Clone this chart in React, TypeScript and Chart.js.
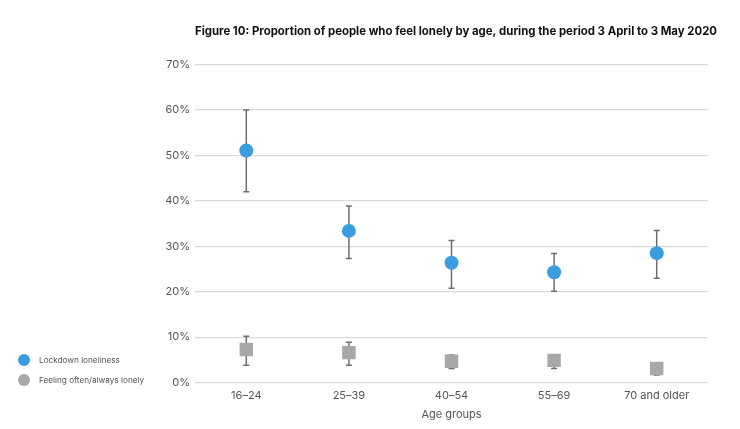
import React, { useEffect, useRef } from "react";
import { Chart, registerables } from "chart.js";

Chart.register(...registerables);

const categories = ["16–24", "25–39", "40–54", "55–69", "70 and older"];
const lockdown = [51.1, 33.4, 26.4, 24.3, 28.5];
const lockdownLow = [42.0, 27.3, 20.8, 20.1, 23.0];
const lockdownHigh = [60.0, 38.9, 31.3, 28.4, 33.5];
const often = [7.3, 6.6, 4.7, 4.9, 3.1];
const oftenLow = [3.8, 3.8, 3.1, 3.1, 1.7];
const oftenHigh = [10.2, 8.9, 6.1, 5.5, 4.0];
const seriesLabels = ["Lockdown loneliness", "Feeling often/always lonely"];
const seriesColors = ["#3a9de0", "#a8a8a8"];
const titleText =
  "Figure 10: Proportion of people who feel lonely by age, during the period 3 April to 3 May 2020";

const errorSets = [
  { low: lockdownLow, high: lockdownHigh },
  { low: oftenLow, high: oftenHigh },
];

const errorBarPlugin = {
  id: "errorBars",
  beforeDatasetsDraw(chart: any) {
    const { ctx, scales } = chart;
    const x = scales.x;
    const y = scales.y;
    ctx.save();
    ctx.strokeStyle = "#6e6e6e";
    ctx.lineWidth = 1.5;
    errorSets.forEach(({ low, high }) => {
      low.forEach((l, i) => {
        const px = x.getPixelForValue(i);
        const yl = y.getPixelForValue(l);
        const yh = y.getPixelForValue(high[i]);
        ctx.beginPath();
        ctx.moveTo(px, yl);
        ctx.lineTo(px, yh);
        ctx.moveTo(px - 3, yl);
        ctx.lineTo(px + 3, yl);
        ctx.moveTo(px - 3, yh);
        ctx.lineTo(px + 3, yh);
        ctx.stroke();
      });
    });
    ctx.restore();
  },
};

export default function App() {
  const ref = useRef<HTMLCanvasElement | null>(null);

  useEffect(() => {
    if (!ref.current) return;
    const chart = new Chart(ref.current, {
      type: "line",
      data: {
        labels: categories,
        datasets: [
          {
            label: seriesLabels[0],
            data: lockdown,
            showLine: false,
            pointStyle: "circle",
            pointRadius: 7,
            pointHoverRadius: 7,
            pointBackgroundColor: seriesColors[0],
            pointBorderWidth: 0,
            borderColor: seriesColors[0],
          },
          {
            label: seriesLabels[1],
            data: often,
            showLine: false,
            pointStyle: "rect",
            pointRadius: 9.5,
            pointHoverRadius: 9.5,
            pointBackgroundColor: seriesColors[1],
            pointBorderWidth: 0,
            borderColor: seriesColors[1],
          },
        ],
      },
      options: {
        animation: false,
        responsive: true,
        maintainAspectRatio: false,
        layout: { padding: { left: 0, right: 15, top: 0, bottom: 0 } },
        plugins: {
          legend: { display: false },
          tooltip: { enabled: false },
          title: {
            display: true,
            text: titleText,
            align: "end",
            color: "#111",
            font: { family: "Inter", size: 11.4, weight: "bold" },
            padding: { top: 17, bottom: 26 },
          },
        },
        scales: {
          x: {
            offset: true,
            grid: { display: false, drawTicks: false },
            border: { display: false },
            ticks: {
              color: "#555",
              font: { family: "Inter", size: 11 },
              padding: 6,
            },
            title: {
              display: true,
              text: "Age groups",
              color: "#555",
              font: { family: "Inter", size: 11 },
              padding: { top: 0, bottom: 0 },
            },
          },
          y: {
            min: 0,
            max: 70,
            ticks: {
              stepSize: 10,
              color: "#555",
              font: { family: "Inter", size: 11 },
              padding: 5,
              callback: (v: any) => v + "%",
            },
            grid: { color: "#dadada", lineWidth: 1.3, drawTicks: false },
            border: { display: false },
            afterFit: (s: any) => {
              s.width = 187;
            },
          },
          yR: {
            position: "right",
            display: true,
            grid: { display: false },
            border: { display: false },
            ticks: { display: false },
            afterFit: (s: any) => {
              s.width = 9;
            },
          },
        },
      },
      plugins: [errorBarPlugin],
    });
    return () => chart.destroy();
  }, []);

  const legendItem = (i: number, top: number) => (
    <div
      key={i}
      style={{
        position: "absolute",
        left: 10,
        top,
        display: "flex",
        alignItems: "center",
        fontFamily: "Inter",
        fontSize: 8.2,
        color: "#555",
        whiteSpace: "nowrap",
      }}
    >
      <span
        style={{
          display: "inline-block",
          width: 12,
          height: 12,
          borderRadius: "50%",
          background: seriesColors[i],
          marginRight: 9,
        }}
      />
      {seriesLabels[i]}
    </div>
  );

  return (
    <div style={{ position: "relative", width: 724, height: 413 }}>
      <canvas ref={ref} />
      {legendItem(0, 346)}
      {legendItem(1, 366)}
    </div>
  );
}
